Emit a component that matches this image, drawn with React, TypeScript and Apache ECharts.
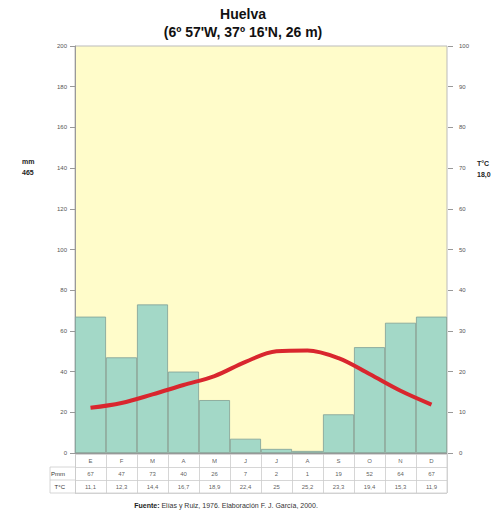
import React, { useEffect, useRef } from "react";
import * as echarts from "echarts";

const months = ["E", "F", "M", "A", "M", "J", "J", "A", "S", "O", "N", "D"];
const precip = [67, 47, 73, 40, 26, 7, 2, 1, 19, 52, 64, 67];
const temps = [11.1, 12.3, 14.4, 16.7, 18.9, 22.4, 25, 25.2, 23.3, 19.4, 15.3, 11.9];
const rowLabels = ["", "Pmm", "T°C"];
const titleText = "Huelva";
const subTitle = "(6º 57'W, 37º 16'N, 26 m)";
const totalPrecip = "465";
const meanTemp = "18,0";
const source = "Elías y Ruiz, 1976. Elaboración F. J. García, 2000.";

const fmt = (v: number) => (Number.isInteger(v) ? String(v) : v.toFixed(1).replace(".", ","));

export default function App() {
  const ref = useRef<HTMLDivElement>(null);
  useEffect(() => {
    if (!ref.current) return;
    const chart = echarts.init(ref.current, undefined, { renderer: "svg" });
    const font = "Liberation Sans, Arial, sans-serif";
    const tableData: any[] = [];
    months.forEach((m, i) => {
      tableData.push([i, 0, m]);
      tableData.push([i, 1, String(precip[i])]);
      tableData.push([i, 2, fmt(temps[i])]);
    });
    const axisLabelStyle = { fontSize: 6, color: "#555", fontFamily: font };
    chart.setOption({
      animation: false,
      backgroundColor: "#fff",
      textStyle: { fontFamily: font },
      title: [
        {
          text: titleText + "\n" + subTitle,
          left: 238,
          top: 0,
          textAlign: "center",
          textStyle: { fontSize: 14, fontWeight: "bold", color: "#111", lineHeight: 18, fontFamily: font },
        },
      ],
      grid: [
        { left: 75, top: 46, width: 372, height: 407, show: true, backgroundColor: "#fffcca", borderColor: "#bbb", borderWidth: 1 },
        { left: 75, top: 454, width: 372, height: 39, show: false },
      ],
      xAxis: [
        {
          type: "category",
          gridIndex: 0,
          data: months,
          axisLabel: { show: false },
          axisTick: { show: false },
          axisLine: { show: true, lineStyle: { color: "#999" } },
        },
        {
          type: "category",
          gridIndex: 1,
          data: months,
          axisLabel: { show: false },
          axisTick: { show: false },
          axisLine: { show: false },
          splitLine: { show: true, interval: 0, lineStyle: { color: "#ccc", width: 0.8 } },
        },
      ],
      yAxis: [
        {
          type: "value",
          gridIndex: 0,
          min: 0,
          max: 200,
          interval: 20,
          axisLabel: { ...axisLabelStyle, margin: 8 },
          axisTick: { show: true, length: 5, lineStyle: { color: "#999" } },
          axisLine: { show: true, lineStyle: { color: "#999" } },
          splitLine: { show: false },
        },
        {
          type: "value",
          gridIndex: 0,
          position: "right",
          min: 0,
          max: 100,
          interval: 10,
          offset: 6,
          axisLabel: { ...axisLabelStyle, margin: 6 },
          axisTick: { show: true, length: 5, inside: true, lineStyle: { color: "#999" } },
          axisLine: { show: false },
          splitLine: { show: false },
        },
        {
          type: "category",
          gridIndex: 1,
          inverse: true,
          data: rowLabels,
          axisLabel: { fontSize: 6, color: "#333", fontFamily: font, margin: 10 },
          axisTick: { show: false },
          axisLine: { show: true, lineStyle: { color: "#ccc" } },
          splitLine: { show: true, interval: 0, lineStyle: { color: "#ccc", width: 0.8 } },
        },
      ],
      series: [
        {
          type: "bar",
          xAxisIndex: 0,
          yAxisIndex: 0,
          data: precip,
          barWidth: "100%",
          barCategoryGap: 0,
          itemStyle: { color: "#a3d8c7", borderColor: "#7f9e95", borderWidth: 0.8 },
          z: 2,
        },
        {
          type: "line",
          xAxisIndex: 0,
          yAxisIndex: 1,
          data: temps,
          smooth: 0.35,
          symbol: "none",
          lineStyle: { color: "#d9262e", width: 4 },
          z: 3,
        },
        {
          type: "scatter",
          xAxisIndex: 1,
          yAxisIndex: 2,
          data: tableData,
          symbolSize: 0,
          label: {
            show: true,
            position: "inside",
            formatter: (p: any) => p.data[2],
            fontSize: 6,
            color: "#333",
            fontFamily: font,
          },
        },
      ],
      graphic: [
        { type: "line", shape: { x1: 50, y1: 467, x2: 75, y2: 467 }, style: { stroke: "#ccc", lineWidth: 0.8 } },
        { type: "line", shape: { x1: 50, y1: 480, x2: 75, y2: 480 }, style: { stroke: "#ccc", lineWidth: 0.8 } },
        { type: "line", shape: { x1: 50, y1: 493, x2: 447, y2: 493 }, style: { stroke: "#ccc", lineWidth: 0.8 } },
        { type: "line", shape: { x1: 50, y1: 467, x2: 50, y2: 493 }, style: { stroke: "#ccc", lineWidth: 0.8 } },
        { type: "line", shape: { x1: 447, y1: 454, x2: 447, y2: 493 }, style: { stroke: "#ccc", lineWidth: 0.8 } },
        {
          type: "text",
          x: 22,
          y: 156,
          style: { text: "mm\n" + totalPrecip, fontSize: 7, fontWeight: "bold", fill: "#222", lineHeight: 11, font: "bold 7px " + font },
        },
        {
          type: "text",
          x: 477,
          y: 158,
          style: { text: "T°C\n" + meanTemp, fontSize: 7, fontWeight: "bold", fill: "#222", lineHeight: 11, font: "bold 7px " + font },
        },
        {
          type: "text",
          x: 226,
          y: 505,
          style: {
            text: "{b|Fuente:} " + source,
            align: "center",
            verticalAlign: "middle",
            fontSize: 7,
            fill: "#333",
            fontFamily: font,
            rich: { b: { fontWeight: "bold", fontSize: 7, fontFamily: font, fill: "#222" } },
          },
        },
      ],
    });
    return () => chart.dispose();
  }, []);
  return <div ref={ref} style={{ width: 502, height: 524, position: "absolute", left: 0, top: 0 }} />;
}
